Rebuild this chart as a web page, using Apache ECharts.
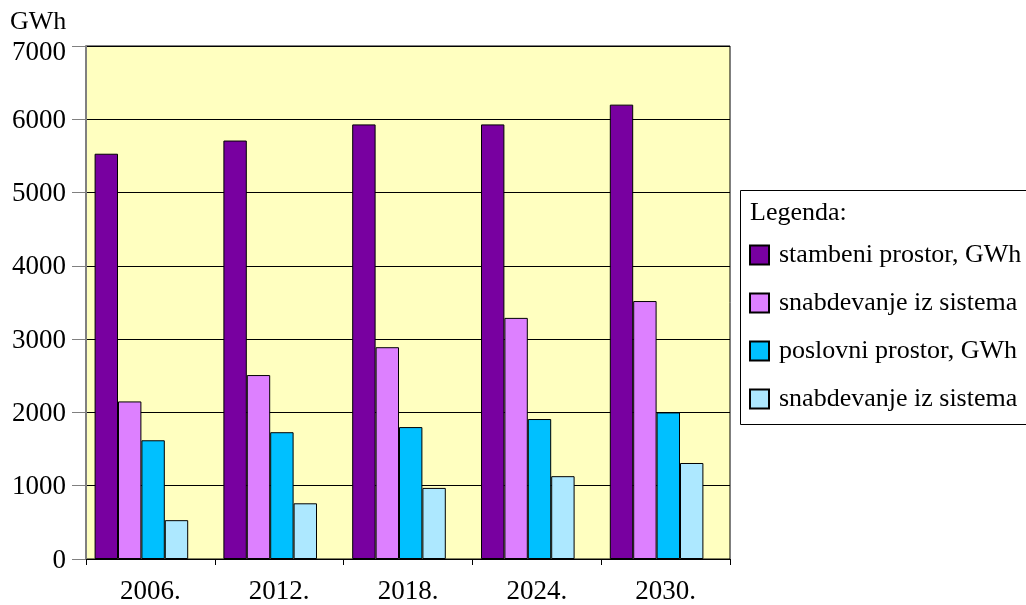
<!DOCTYPE html>
<html>
<head>
<meta charset="utf-8">
<title>GWh</title>
<script src="https://cdn.jsdelivr.net/npm/echarts@6/dist/echarts.min.js"></script>
<style>
  html, body { margin: 0; padding: 0; background: #fff; }
  #container { width: 1026px; height: 605px; }
</style>
</head>
<body>
<div id="container"></div>
<script type="text/javascript">
    var godine = ['2006.', '2012.', '2018.', '2024.', '2030.'];
    var stambeni = [5530, 5710, 5930, 5930, 6200];
    var stambeniSistem = [2150, 2510, 2890, 3290, 3520];
    var poslovni = [1620, 1730, 1800, 1910, 2000];
    var poslovniSistem = [530, 760, 970, 1130, 1310];
    var yTicks = [0, 1000, 2000, 3000, 4000, 5000, 6000, 7000];

    var font = 'Liberation Serif, Times New Roman, serif';
    var dom = document.getElementById('container');
    var myChart = echarts.init(dom);

    function bar(name, data, color) {
        return {
            name: name,
            type: 'bar',
            data: data,
            barWidth: 23.4,
            barGap: '0%',
            itemStyle: { color: color, borderColor: '#000', borderWidth: 1 }
        };
    }

    var yMax = yTicks[yTicks.length - 1];

    var option = {
        animation: false,
        textStyle: { fontFamily: font },
        grid: {
            left: 86, right: 296, top: 46, bottom: 46,
            show: true, backgroundColor: '#FFFFC0', borderColor: '#000', borderWidth: 1
        },
        legend: {
            data: ['stambeni prostor, GWh', 'snabdevanje iz sistema ', 'poslovni prostor, GWh', 'snabdevanje iz sistema'],
            orient: 'vertical',
            left: 749, top: 242,
            padding: 0,
            itemWidth: 19, itemHeight: 19,
            itemGap: 22,
            icon: 'rect',
            textStyle: { fontFamily: font, fontSize: 26, color: '#000', padding: [0, 0, 0, 5] },
            formatter: function (n) { return n.trim(); }
        },
        graphic: [
            {
                type: 'rect', left: 740, top: 190, z: -1,
                shape: { width: 300, height: 234 },
                style: { fill: '#fff', stroke: '#000', lineWidth: 1 }
            },
            {
                type: 'text', left: 750, top: 200,
                style: { text: 'Legenda:', font: '26px ' + font, fill: '#000' }
            },
            {
                type: 'text', left: 10, top: 9,
                style: { text: 'GWh', font: '26px ' + font, fill: '#000' }
            }
        ],
        xAxis: {
            type: 'category',
            data: godine,
            axisLine: { lineStyle: { color: '#000', width: 1 } },
            axisTick: { show: true, length: 6, lineStyle: { color: '#000' } },
            axisLabel: { fontSize: 27, color: '#000', margin: 19, fontFamily: font }
        },
        yAxis: {
            type: 'value',
            min: yTicks[0],
            max: yMax,
            interval: 1000,
            axisLine: { show: true, lineStyle: { color: '#808080', width: 2 } },
            axisTick: { show: true, length: 14, lineStyle: { color: '#808080' } },
            axisLabel: {
                fontSize: 27, color: '#000', margin: 20, fontFamily: font,
                formatter: function (v) {
                    return v === yMax ? '{top|' + v + '}' : '{n|' + v + '}';
                },
                rich: {
                    n: { fontSize: 27, fontFamily: font, color: '#000', padding: [3, 0, 0, 0] },
                    top: { fontSize: 27, fontFamily: font, color: '#000', padding: [14, 0, 0, 0] }
                }
            },
            splitLine: { lineStyle: { color: '#000', width: 1 } }
        },
        series: [
            bar('stambeni prostor, GWh', stambeni, '#7800A0'),
            bar('snabdevanje iz sistema ', stambeniSistem, '#DD80FF'),
            bar('poslovni prostor, GWh', poslovni, '#00C0FF'),
            bar('snabdevanje iz sistema', poslovniSistem, '#ADE8FF'),
            // prazna serija, samo da pomeri grupu stubova ulevo
            { name: 'razmak', type: 'bar', data: [], barWidth: 18, barGap: '0%' }
        ]
    };

    myChart.setOption(option, true);
</script>
</body>
</html>
